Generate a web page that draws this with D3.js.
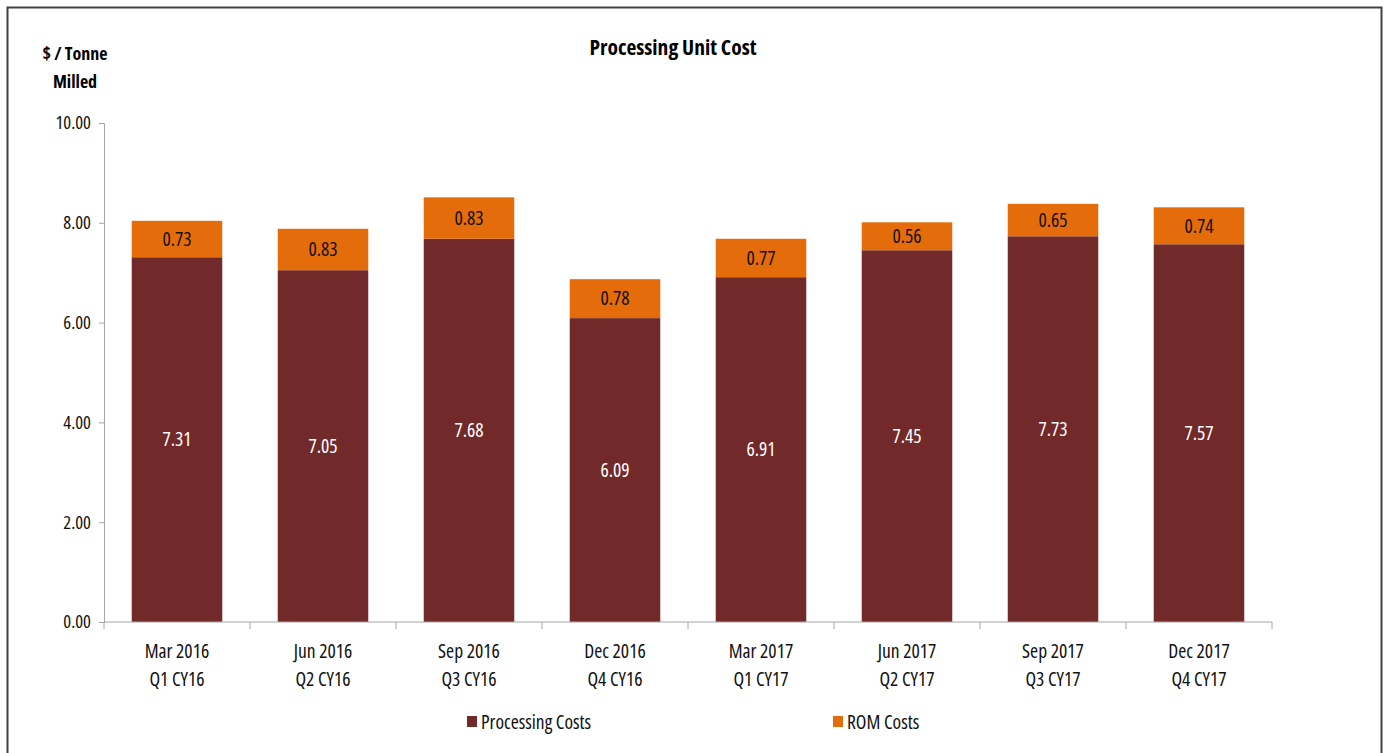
<!DOCTYPE html>
<html>
<head>
<meta charset="utf-8">
<script src="https://cdn.jsdelivr.net/npm/d3@7"></script>
<style>
  body { margin: 0; background: #fff; }
  svg { font-family: "Open Sans", sans-serif; }
  svg text { font-stretch: 75%; }
</style>
</head>
<body>
<svg id="chart" width="1389" height="753"></svg>
<script>
// data
const quarters = ["Mar 2016", "Jun 2016", "Sep 2016", "Dec 2016", "Mar 2017", "Jun 2017", "Sep 2017", "Dec 2017"];
const periods = ["Q1 CY16", "Q2 CY16", "Q3 CY16", "Q4 CY16", "Q1 CY17", "Q2 CY17", "Q3 CY17", "Q4 CY17"];
const processingCosts = [7.31, 7.05, 7.68, 6.09, 6.91, 7.45, 7.73, 7.57];
const romCosts = [0.73, 0.83, 0.83, 0.78, 0.77, 0.56, 0.65, 0.74];
const yTicks = [0, 2, 4, 6, 8, 10];
const seriesNames = ["Processing Costs", "ROM Costs"];

const colors = { "Processing Costs": "#722929", "ROM Costs": "#E46C0A" };

const svg = d3.select("#chart");
const margin = {top: 123, left: 104, right: 117, bottom: 131};
const width = 1389 - margin.left - margin.right;
const height = 753 - margin.top - margin.bottom;

// outer frame
svg.append("rect")
  .attr("x", 7.5).attr("y", 7.5)
  .attr("width", 1374).attr("height", 760)
  .attr("fill", "none")
  .attr("stroke", "#404040")
  .attr("stroke-width", 2);

const g = svg.append("g").attr("transform", `translate(${margin.left},${margin.top})`);

const x = d3.scaleBand().domain(quarters).range([0, width]).paddingInner(0.38).paddingOuter(0.19);
const y = d3.scaleLinear().domain([0, 10]).range([height, 0]);

// stacked rows
const rows = quarters.map((q, i) => ({
  quarter: q,
  "Processing Costs": processingCosts[i],
  "ROM Costs": romCosts[i]
}));
const stack = d3.stack().keys(seriesNames)(rows);

//----------------------------------------
// bars
//----------------------------------------
const layers = g.selectAll(".layer")
  .data(stack)
  .enter()
  .append("g")
  .attr("class", "layer")
  .attr("fill", d => colors[d.key]);

layers.selectAll("rect")
  .data(d => d)
  .enter()
  .append("rect")
  .attr("x", d => x(d.data.quarter))
  .attr("y", d => y(d[1]))
  .attr("width", x.bandwidth())
  .attr("height", d => y(d[0]) - y(d[1]));

// value labels
layers.selectAll("text")
  .data(d => d.map(v => ({v: v, key: d.key})))
  .enter()
  .append("text")
  .attr("x", d => x(d.v.data.quarter) + x.bandwidth() / 2)
  .attr("y", d => (y(d.v[0]) + y(d.v[1])) / 2)
  .attr("dy", "0.35em")
  .attr("text-anchor", "middle")
  .attr("font-size", "19.5px")
  .attr("fill", d => d.key === "ROM Costs" ? "#111" : "#fff")
  .text(d => (d.v[1] - d.v[0]).toFixed(2));

//----------------------------------------
// axes
//----------------------------------------
const yAxis = g.append("g")
  .call(d3.axisLeft(y).tickValues(yTicks).tickSize(5).tickPadding(8).tickFormat(d3.format(".2f")));
yAxis.select(".domain").attr("stroke", "#a6a6a6");
yAxis.selectAll(".tick line").attr("stroke", "#a6a6a6");
yAxis.selectAll(".tick text").attr("font-size", "18.5px").attr("fill", "#111")
  .attr("font-family", "Open Sans, sans-serif");

// x axis line with ticks at band boundaries
const xAxis = g.append("g").attr("transform", `translate(0,${height})`);
xAxis.append("line")
  .attr("x1", 0).attr("x2", width)
  .attr("stroke", "#a6a6a6");
const step = x.step();
const bounds = d3.range(quarters.length + 1).map(i => x(quarters[0]) - x.step() * x.paddingOuter() + i * step);
xAxis.selectAll(".xtick")
  .data(bounds)
  .enter()
  .append("line")
  .attr("x1", d => d).attr("x2", d => d)
  .attr("y1", 0).attr("y2", 7)
  .attr("stroke", "#a6a6a6");

const xl = xAxis.selectAll(".xlabel")
  .data(quarters)
  .enter()
  .append("text")
  .attr("text-anchor", "middle")
  .attr("font-size", "19.5px")
  .attr("fill", "#111");
xl.append("tspan")
  .attr("x", d => x(d) + x.bandwidth() / 2)
  .attr("y", 36)
  .text(d => d);
xl.append("tspan")
  .attr("x", d => x(d) + x.bandwidth() / 2)
  .attr("y", 64)
  .text((d, i) => periods[i]);

//----------------------------------------
// titles
//----------------------------------------
svg.append("text")
  .attr("x", 673).attr("y", 55)
  .attr("text-anchor", "middle")
  .attr("font-size", "21.5px")
  .attr("font-weight", "bold")
  .text("Processing Unit Cost");

const yTitle = svg.append("text")
  .attr("text-anchor", "middle")
  .attr("font-size", "18px")
  .attr("font-weight", "bold");
yTitle.append("tspan").attr("x", 75).attr("y", 60).text("$ / Tonne");
yTitle.append("tspan").attr("x", 75).attr("y", 88).text("Milled");

//----------------------------------------
// legend
//----------------------------------------
const legendX = [467, 833];
const legend = svg.selectAll(".legend")
  .data(seriesNames)
  .enter()
  .append("g")
  .attr("class", "legend")
  .attr("transform", (d, i) => `translate(${legendX[i]},722)`);
legend.append("rect")
  .attr("x", 0).attr("y", -6)
  .attr("width", 10).attr("height", 11)
  .attr("fill", d => colors[d]);
legend.append("text")
  .attr("x", 14).attr("y", 0)
  .attr("dy", "0.35em")
  .attr("font-size", "19.5px")
  .attr("fill", "#111")
  .text(d => d);
</script>
</body>
</html>
